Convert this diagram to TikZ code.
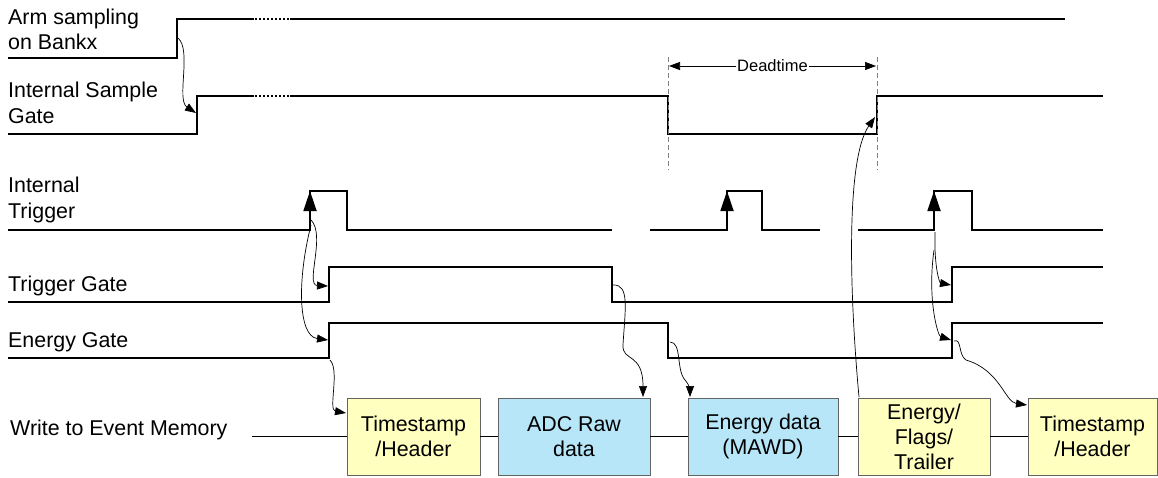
\documentclass[tikz,border=0pt]{standalone}
\usepackage{fontspec}
\setmainfont{Liberation Sans}
\usetikzlibrary{arrows.meta}
\definecolor{boxyellow}{RGB}{255,255,192}
\definecolor{boxblue}{RGB}{182,230,248}
\definecolor{boxedge}{RGB}{100,100,100}
\begin{document}
\begin{tikzpicture}[x=1pt,y=-1pt,
  sig/.style={line width=1.8pt, line join=miter},
  dots/.style={line width=1.4pt, dash pattern=on 2pt off 2pt},
  conn/.style={line width=0.7pt, -{Triangle[length=11pt,width=8pt]}},
  trig/.style={-{Triangle[length=20pt,width=13pt]}, line width=1.8pt},
  lbl/.style={anchor=base west, inner sep=0, font=\fontsize{21.4}{25}\selectfont},
  membox/.style={draw=boxedge, line width=0.8pt, minimum height=77pt, inner sep=0, align=center, font=\fontsize{21.4}{25}\selectfont},
  deadline/.style={draw=gray, line width=1pt, dash pattern=on 5pt off 3pt}]
\useasboundingbox (0,0) rectangle (1158,477);

% labels
\node[lbl] (l1) at (8,24) {Arm sampling};
\node[lbl] (l1b) at (8,49) {on Bankx};
\node[lbl] (l2) at (8,97) {Internal Sample};
\node[lbl] (l2b) at (8,123) {Gate};
\node[lbl] (l3) at (8,192) {Internal};
\node[lbl] (l3b) at (8,218) {Trigger};
\node[lbl] (l4) at (8,291) {Trigger Gate};
\node[lbl] (l5) at (8,347) {Energy Gate};
\node[lbl] (l6) at (10,435) {Write to Event Memory};

% Arm sampling
\draw[sig] (8,58) -- (177,58) -- (177,19) -- (254,19);
\draw[dots] (255,19) -- (290,19);
\draw[sig] (290,19) -- (1065,19);

% Internal sample gate
\draw[sig] (8,134) -- (197,134) -- (197,96) -- (254,96);
\draw[dots] (255,96) -- (290,96);
\draw[sig] (290,96) -- (668,96) -- (668,134) -- (877,134) -- (877,96) -- (1103,96);

% Deadtime
\coordinate (d1) at (668,57);
\coordinate (d1b) at (668,170);
\coordinate (d2) at (877,57);
\coordinate (d2b) at (877,170);
\draw[deadline] (d1) -- (d1b);
\draw[deadline] (d2) -- (d2b);
\coordinate (da) at (669,66);
\coordinate (db) at (876,66);
\draw[line width=0.7pt, {Triangle[length=11pt,width=8pt]}-{Triangle[length=11pt,width=8pt]}] (da) -- (db)
  node[midway, fill=white, inner sep=1pt, font=\fontsize{16.5}{18}\selectfont] (dt) {Deadtime};

% Internal trigger
\draw[sig] (8,230) -- (310,230) -- (310,191) -- (347,191) -- (347,230) -- (612,230);
\draw[sig] (650,230) -- (727,230) -- (727,191) -- (762,191) -- (762,230) -- (820,230);
\draw[sig] (858,230) -- (934,230) -- (934,191) -- (972,191) -- (972,230) -- (1103,230);
\draw[trig] (310,215) -- (310,191);
\draw[trig] (727,215) -- (727,191);
\draw[trig] (934,215) -- (934,191);

% Trigger gate
\draw[sig] (8,302) -- (329,302) -- (329,267) -- (612,267) -- (612,302) -- (952,302) -- (952,267) -- (1103,267);
% Energy gate
\draw[sig] (8,358) -- (329,358) -- (329,323) -- (668,323) -- (668,358) -- (952,358) -- (952,323) -- (1103,323);

% memory boxes
\node[membox, fill=boxyellow, minimum width=133pt] (b1) at (413.5,436.5) {Timestamp\\/Header};
\node[membox, fill=boxblue, minimum width=152pt] (b2) at (574,436.5) {ADC Raw\\data};
\node[membox, fill=boxblue, minimum width=150pt] (b3) at (763,436.5) {Energy data\\(MAWD)};
\node[membox, fill=boxyellow, minimum width=132pt] (b4) at (924,436.5) {Energy/\\Flags/\\Trailer};
\node[membox, fill=boxyellow, minimum width=129pt] (b5) at (1092.5,436.5) {Timestamp\\/Header};
\coordinate (ms) at (252,436.5);
\draw[line width=1pt] (ms) -- (b1.west) (b1.east) -- (b2.west) (b2.east) -- (b3.west) (b3.east) -- (b4.west) (b4.east) -- (b5.west);

% causal connectors
\coordinate (a1) at (178,38);   \coordinate (a1e) at (196,113);
\draw[conn] (a1) .. controls (192,50) and (176,100) .. (a1e);
\coordinate (a2) at (311,220);  \coordinate (a2e) at (328,286);
\draw[conn] (a2) .. controls (326,235) and (305,285) .. (a2e);
\coordinate (a3) at (311,225);  \coordinate (a3e) at (328,340);
\draw[conn] (a3) .. controls (297,280) and (298,336) .. (a3e);
\coordinate (a4) at (330,360);  \coordinate (a4e) at (346,413);
\draw[conn] (a4) .. controls (340,370) and (328,410) .. (a4e);
\coordinate (a5) at (613,285);  \coordinate (a5e) at (643,397);
\draw[conn] (a5) .. controls (630,284) and (625,310) .. (623,345) .. controls (622,362) and (643,352) .. (a5e);
\coordinate (a6) at (670,342);  \coordinate (a6e) at (690,397);
\draw[conn] (a6) .. controls (682,342) and (676,370) .. (685,380) .. controls (690,386) and (690,390) .. (a6e);
\coordinate (a7) at (859,397);  \coordinate (a7e) at (875,117);
\draw[conn] (a7) .. controls (850,300) and (845,160) .. (a7e);
\coordinate (a8) at (935,232);  \coordinate (a8e) at (951,285);
\draw[conn] (a8) .. controls (934,270) and (940,283) .. (a8e);
\coordinate (a9) at (934,250);  \coordinate (a9e) at (951,340);
\draw[conn] (a9) .. controls (927,300) and (938,336) .. (a9e);
\coordinate (a10) at (954,341); \coordinate (a10e) at (1027,405);
\draw[conn] (a10) .. controls (962,338) and (958,355) .. (966,360) .. controls (1000,370) and (1005,402) .. (a10e);
\end{tikzpicture}
\end{document}
